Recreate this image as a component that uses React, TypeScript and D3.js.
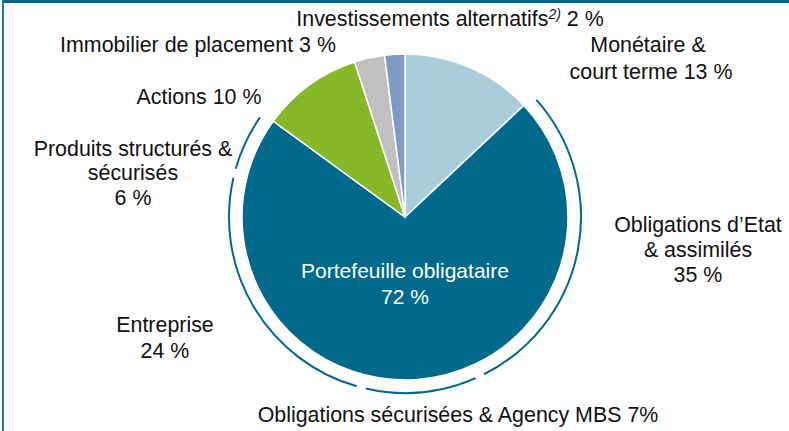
import React from "react";
import * as d3 from "d3";

const categories = [
  "Monétaire & court terme",
  "Portefeuille obligataire",
  "Actions",
  "Immobilier de placement",
  "Investissements alternatifs",
];
const shares = [13, 72, 10, 3, 2];
const colors = ["#A9CDD9", "#00698C", "#86B827", "#C0C0C0", "#7F9AC6"];

const bondSubCategories = [
  "Obligations d'Etat & assimilés",
  "Obligations sécurisées & Agency MBS",
  "Entreprise",
  "Produits structurés & sécurisés",
];
const bondSubShares = [35, 7, 24, 6];
// bracket segment extents as drawn on the outer arc
const bracketShares = [30, 11, 25, 6];

const W = 789;
const H = 431;
const cx = 405;
const cy = 217;
const R = 163;
const RB = 176;
const FONT = "'Liberation Sans', Arial, sans-serif";

export default function App() {
  const pie = d3.pie<number>().sort(null).value((d) => d)(shares);
  const arcGen = d3.arc<d3.PieArcDatum<number>>().innerRadius(0).outerRadius(R);

  const toRad = d3.scaleLinear().domain([0, 100]).range([0, 2 * Math.PI]);
  const bondStart = shares[0];
  let acc = bondStart;
  const inset = (1.5 * Math.PI) / 180;
  const brackets = bracketShares.map((s) => {
    const a0 = toRad(acc) + inset;
    acc += s;
    const a1 = toRad(acc) - inset;
    return d3.arc()({ innerRadius: RB, outerRadius: RB, startAngle: a0, endAngle: a1 } as any) as string;
  });

  const fs = 21.4;
  const t = (x: number, y: number, s: string, anchor: string = "middle") => (
    <text x={x} y={y} textAnchor={anchor} fontSize={fs} fontFamily={FONT} fill="#111">
      {s}
    </text>
  );

  return (
    <svg width={W} height={H} style={{ position: "absolute", left: 0, top: 0 }}>
      <rect x={0} y={0} width={W} height={H} fill="#fff" />
      <line x1={2} y1={1.5} x2={W} y2={1.5} stroke="#00698C" strokeWidth={3} />
      <line x1={3} y1={0} x2={3} y2={H} stroke="#1B7A9C" strokeWidth={2} />
      <g transform={`translate(${cx},${cy})`}>
        {pie.map((d, i) => (
          <path key={i} d={arcGen(d) as string} fill={colors[i]} stroke="#fff" strokeWidth={1.5} />
        ))}
        {brackets.map((p, i) => (
          <path key={"b" + i} d={p} fill="none" stroke="#00698C" strokeWidth={2} />
        ))}
        <text x={0} y={61} textAnchor="middle" fontSize={21} fontFamily={FONT} fill="#fff">
          {categories[1]}
        </text>
        <text x={0} y={87} textAnchor="middle" fontSize={21} fontFamily={FONT} fill="#fff">
          {shares[1]} %
        </text>
      </g>
      <text x={450} y={26} textAnchor="middle" fontSize={fs} fontFamily={FONT} fill="#111">
        {categories[4]}
        <tspan fontSize={14} fontStyle="italic" dy={-7}>2)</tspan>
        <tspan dy={7}> {shares[4]} %</tspan>
      </text>
      {t(198, 52, `${categories[3]} ${shares[3]} %`)}
      {t(648, 52, "Monétaire &")}
      {t(651, 79, `court terme ${shares[0]} %`)}
      {t(199, 104, `${categories[2]} ${shares[2]} %`)}
      {t(133, 156, "Produits structurés &")}
      {t(133, 180, "sécurisés")}
      {t(133, 205, `${bondSubShares[3]} %`)}
      {t(698, 232, "Obligations d’Etat")}
      {t(698, 257, "& assimilés")}
      {t(698, 282, `${bondSubShares[0]} %`)}
      {t(165, 332, bondSubCategories[2])}
      {t(165, 358, `${bondSubShares[2]} %`)}
      {t(458, 422, `${bondSubCategories[1]} ${bondSubShares[1]}%`)}
    </svg>
  );
}
